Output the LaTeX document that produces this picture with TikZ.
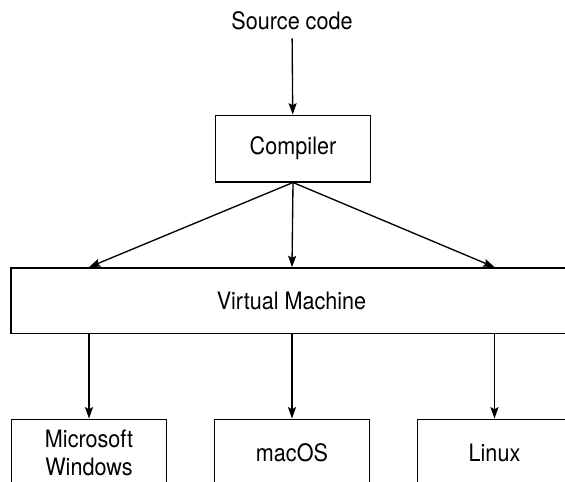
\documentclass[tikz,border=0pt]{standalone}
\usepackage{fontspec}
\setmainfont{TeX Gyre Heros}[FakeStretch=0.9]
\usepackage{tikz}
\usetikzlibrary{positioning, arrows.meta}

\begin{document}
\begin{tikzpicture}[x=0.75pt, y=-0.75pt, font=\fontsize{18}{21}\selectfont,
  box/.style={draw=black, line width=1pt, minimum width=116pt, minimum height=50pt, inner sep=0pt, align=center},
  arr/.style={line width=1pt, -{Stealth[length=8.5pt, width=6pt, inset=1.5pt]}}]

\useasboundingbox (0,0) rectangle (565,482);
\clip (0,0) rectangle (565,482);

% Quelltext und Compiler
\node[inner sep=6pt] (src) at (292,21) {Source code};
\node[box] (comp) at (293,148.5) {Compiler};
\draw[arr] (src) -- (comp);

% Virtuelle Maschine
\node[box, minimum width=421pt, minimum height=49pt] (vm) at (291.5,300.5) {Virtual Machine};

% Plattformen
\foreach \n/\x/\txt in {
  win/89/{Microsoft\\Windows}, mac/292/macOS, lin/494.5/Linux} {
  \node[box] (\n) at (\x,452.5) {\txt};
  \draw[arr] (comp.south) -- (vm.north -| \n);
  \draw[arr] (vm.south -| \n) -- (\n);
}
\end{tikzpicture}
\end{document}
